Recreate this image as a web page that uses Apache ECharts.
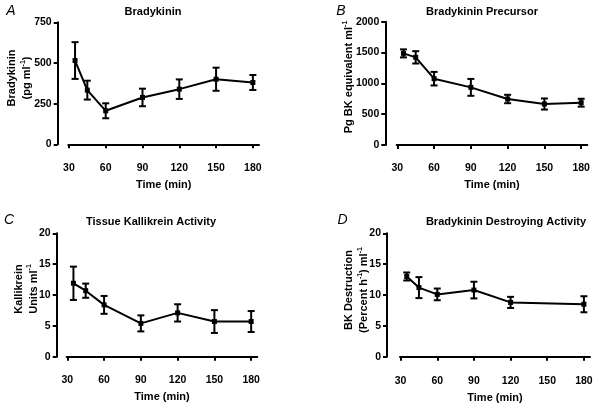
<!DOCTYPE html>
<html><head><meta charset="utf-8">
<script src="https://cdn.jsdelivr.net/npm/echarts@6/dist/echarts.min.js"></script>
<style>html,body{margin:0;padding:0;background:#fff}#c{width:596px;height:407px}</style>
</head><body><div id="c"></div>
<script>
// ---- data ----
const timesABC = [35, 45, 60, 90, 120, 150, 180];
const timesD = [35, 45, 60, 90, 120, 180];
const bkMean = [515, 333, 206, 288, 339, 400, 380];
const bkErr = [113, 58, 46, 54, 60, 71, 46];
const precMean = [1486, 1422, 1076, 935, 746, 665, 686];
const precErr = [65, 100, 110, 137, 68, 90, 64];
const kalMean = [11.9, 10.7, 8.4, 5.4, 7.1, 5.7, 5.7];
const kalErr = [2.7, 1.15, 1.45, 1.3, 1.4, 1.85, 1.7];
const desMean = [13.0, 11.2, 10.1, 10.8, 8.8, 8.5];
const desErr = [0.65, 1.7, 0.95, 1.35, 0.9, 1.3];
const xTicks = [30, 60, 90, 120, 150, 180];
const yMaxes = [750, 2000, 20, 20];
const yIntervals = [250, 500, 5, 5];
const titles = ['Bradykinin', 'Bradykinin Precursor', 'Tissue Kallikrein Activity', 'Bradykinin Destroying Activity'];
const letters = ['A', 'B', 'C', 'D'];
const xName = 'Time (min)';

const FONT = 'Liberation Sans, Arial, sans-serif';
const grids = [
  {left: 68.3, top: 22.3, width: 190.7, height: 122},
  {left: 396.7, top: 21.7, width: 190.6, height: 123.3},
  {left: 66.7, top: 233.3, width: 190.6, height: 123.4},
  {left: 400, top: 233.3, width: 190, height: 123.4}
];
const yOffsets = [10.6, 11.4, 10, 13];
const xOffsets = [11.4, 10.7, 11, 11.6];

const panels = [
  {t: timesABC, m: bkMean, e: bkErr},
  {t: timesABC, m: precMean, e: precErr},
  {t: timesABC, m: kalMean, e: kalErr},
  {t: timesD, m: desMean, e: desErr}
];

const axisLine = {show: true, lineStyle: {color: '#000', width: 2}};
const axisTick = {show: true, length: 4, lineStyle: {color: '#000', width: 2}};
const lbl = {color: '#000', fontFamily: FONT, fontWeight: 'bold', fontSize: 10.5, formatter: v => String(v)};

const xAxes = grids.map((g, i) => ({
  type: 'value', gridIndex: i, min: 29.5, max: 185, offset: xOffsets[i],
  axisLine, splitLine: {show: false},
  axisTick: Object.assign({customValues: xTicks}, axisTick),
  axisLabel: Object.assign({customValues: xTicks, margin: 7}, lbl),
  name: xName, nameLocation: 'middle', nameGap: 24,
  nameTextStyle: {color: '#000', fontFamily: FONT, fontWeight: 'bold', fontSize: 11}
}));
const yAxes = grids.map((g, i) => ({
  type: 'value', gridIndex: i, min: 0, max: yMaxes[i], interval: yIntervals[i], offset: yOffsets[i],
  axisLine, splitLine: {show: false}, axisTick,
  axisLabel: Object.assign({margin: 6}, lbl)
}));

const series = [];
panels.forEach((p, i) => {
  const ebData = p.t.map((t, k) => [t, p.m[k] - p.e[k], p.m[k] + p.e[k]]);
  series.push({
    type: 'custom', xAxisIndex: i, yAxisIndex: i, data: ebData, silent: true,
    renderItem: function (params, api) {
      const x = api.value(0), lo = api.value(1), hi = api.value(2);
      const pl = api.coord([x, lo]), ph = api.coord([x, hi]);
      const w = 3.5;
      const st = {stroke: '#000', lineWidth: 2, fill: null};
      return {type: 'group', children: [
        {type: 'line', shape: {x1: pl[0], y1: pl[1], x2: ph[0], y2: ph[1]}, style: st},
        {type: 'line', shape: {x1: pl[0] - w, y1: pl[1], x2: pl[0] + w, y2: pl[1]}, style: st},
        {type: 'line', shape: {x1: ph[0] - w, y1: ph[1], x2: ph[0] + w, y2: ph[1]}, style: st}
      ]};
    }
  });
  series.push({
    type: 'line', xAxisIndex: i, yAxisIndex: i,
    data: p.t.map((t, k) => [t, p.m[k]]),
    symbol: 'rect', symbolSize: 5, showSymbol: true,
    lineStyle: {color: '#000', width: 2}, itemStyle: {color: '#000'},
    animation: false
  });
});

const rich = {
  a: {fontFamily: FONT, fontWeight: 'bold', fontSize: 11, fill: '#000', lineHeight: 15},
  s: {fontFamily: FONT, fontWeight: 'bold', fontSize: 7, fill: '#000', verticalAlign: 'top', lineHeight: 15, padding: [0, 0, 6, 0]}
};
function txt(x, y, text, opts) {
  return {type: 'text', x: x, y: y, style: Object.assign({
    text: text, fill: '#000', font: 'bold 11px ' + FONT, align: 'center', verticalAlign: 'middle'
  }, opts || {})};
}
function rtxt(x, y, text) {
  return {type: 'text', x: x, y: y, rotation: Math.PI / 2,
    style: {text: text, rich: rich, align: 'center', verticalAlign: 'middle', fill: '#000'}};
}
const titlePos = [[153, 12], [482, 12], [151, 222], [506, 221.5]];
const letterPos = [[11, 11.5], [341, 11], [9, 220], [342.5, 220]];
const graphic = [];
titles.forEach((t, i) => graphic.push(txt(titlePos[i][0], titlePos[i][1], t)));
letters.forEach((t, i) => graphic.push(txt(letterPos[i][0], letterPos[i][1], t, {font: 'italic 14px ' + FONT})));
graphic.push(rtxt(19.5, 78, '{a|Bradykinin}\n{a|(pg ml}{s|-1}{a|)}'));
graphic.push(rtxt(349, 77, '{a|Pg BK equivalent ml}{s|-1}'));
graphic.push(rtxt(26, 289, '{a|Kallikrein}\n{a|Units ml}{s|-1}'));
graphic.push(rtxt(356.5, 290, '{a|BK Destruction}\n{a|(Percent h}{s|-1}{a|) ml}{s|-1}'));

const chart = echarts.init(document.getElementById('c'), null, {renderer: 'canvas'});
chart.setOption({
  animation: false,
  backgroundColor: '#fff',
  grid: grids,
  xAxis: xAxes,
  yAxis: yAxes,
  series: series,
  graphic: graphic
});
</script>
</body></html>
